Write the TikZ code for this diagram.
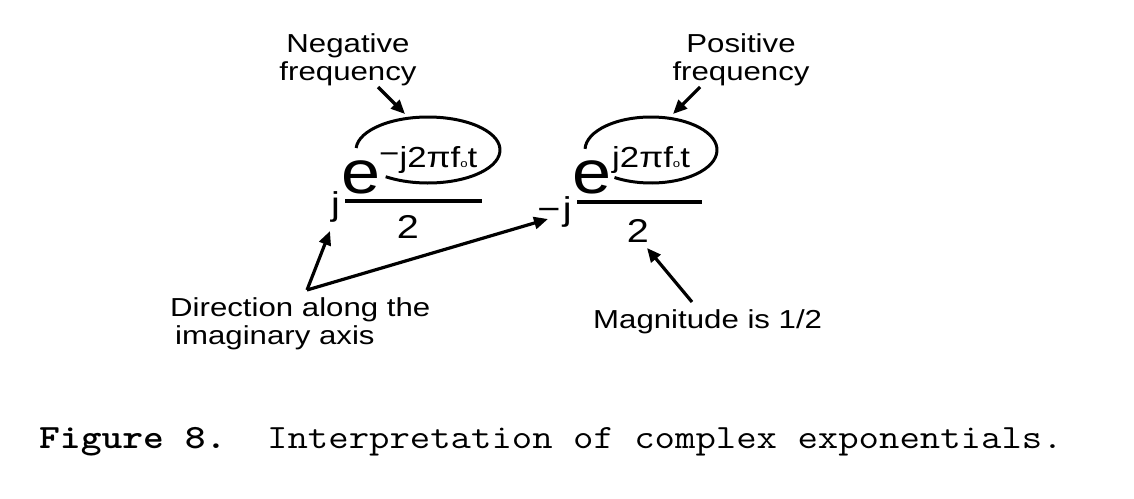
\documentclass[tikz,border=0pt]{standalone}
\usepackage{fontspec}
\setmainfont{Liberation Sans}
\usepackage{graphicx}
\usetikzlibrary{arrows.meta}
\newcommand{\wx}[1]{\scalebox{1.2}[1]{#1}}
\newcommand{\wxe}[1]{\scalebox{1.15}[1]{#1}}
\newcommand{\wcap}[1]{\scalebox{1.165}[1]{#1}}
\newcommand{\subo}{{\fontsize{11}{11}\selectfont o}}
\begin{document}
\begin{tikzpicture}[x=1pt,y=-1pt,
  lbl/.style={inner sep=0pt, font=\fontsize{26}{28}\selectfont},
  big/.style={inner sep=0pt, font=\fontsize{61}{61}\selectfont},
  expo/.style={inner sep=0pt, font=\fontsize{29}{29}\selectfont},
  mid/.style={inner sep=0pt, font=\fontsize{33}{33}\selectfont},
  arr/.style={line width=3.2pt, -{Triangle[length=14pt,width=12pt]}},
  ell/.style={line width=3pt},
  fracbar/.style={line width=3.2pt},
]
\useasboundingbox (0,0) rectangle (1134,498);

% ---------- left term ----------
\node[lbl, anchor=base, align=center] (neg) at (348,80) {\wx{Negative}\\\wx{frequency}};
\coordinate (negT) at (378,87);
\coordinate (negH) at (405,114);
\draw[arr] (negT) -- (negH);

\node[big, anchor=base west] (eL) at (341,193) {\wxe{e}};
\node[expo, anchor=base west] (xL) at (379,167) {\wx{\raisebox{4pt}{−}j2πf\subo t}};
\coordinate (cL) at (428,150);
\draw[ell] ([shift={(183.5:72 and 33)}]cL) arc[start angle=183.5, end angle=486, x radius=72, y radius=33];
\coordinate (bL1) at (345,201);
\coordinate (bL2) at (482,201);
\draw[fracbar] (bL1) -- (bL2);
\node[mid, anchor=base east] (jL) at (340,215) {\wx{j}};
\node[mid, anchor=base] (tL) at (408,238) {\wx{2}};

% ---------- right term ----------
\node[lbl, anchor=base, align=center] (pos) at (741,80) {\wx{Positive}\\\wx{frequency}};
\coordinate (posT) at (700,87);
\coordinate (posH) at (673,114);
\draw[arr] (posT) -- (posH);

\node[big, anchor=base west] (eR) at (572,193) {\wxe{e}};
\node[expo, anchor=base west] (xR) at (612,167) {\wx{j2πf\subo t}};
\coordinate (cR) at (651,150);
\draw[ell] ([shift={(182:66 and 33)}]cR) arc[start angle=182, end angle=483.6, x radius=66, y radius=33];
\coordinate (bR1) at (577,202);
\coordinate (bR2) at (702,202);
\draw[fracbar] (bR1) -- (bR2);
\node[mid, anchor=base east] (jR) at (572,220) {\wx{−\hspace{2pt}j}};
\node[mid, anchor=base] (tR) at (638,242) {\wx{2}};

% ---------- bottom labels ----------
\node[lbl, anchor=base west, align=left] (dir) at (170,344) {\wx{Direction along the}\\\hspace*{5pt}\wx{imaginary axis}};
\coordinate (apex) at (307,290);
\coordinate (dirH1) at (330,231);
\coordinate (dirH2) at (548,219);
\draw[arr] (apex) -- (dirH1);
\draw[arr] (apex) -- (dirH2);

\node[lbl, anchor=base west] (mag) at (593,328) {\wx{Magnitude is 1/2}};
\coordinate (magT) at (692,302);
\coordinate (magH) at (647,248);
\draw[arr] (magT) -- (magH);

% ---------- caption ----------
\node[inner sep=0pt, anchor=base west, font=\ttfamily\fontsize{34}{34}\selectfont] (cap) at (39,448)
  {\wcap{\textbf{Figure 8.}\ \ Interpretation of complex exponentials.}};
\end{tikzpicture}
\end{document}
